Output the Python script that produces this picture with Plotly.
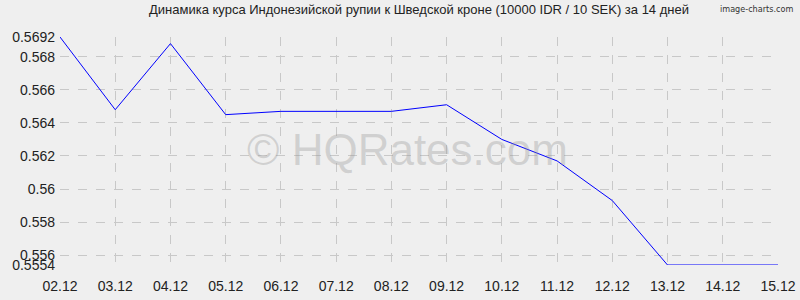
import plotly.graph_objects as go

dates = ["02.12", "03.12", "04.12", "05.12", "06.12", "07.12", "08.12",
         "09.12", "10.12", "11.12", "12.12", "13.12", "14.12", "15.12"]
rates = [0.5692, 0.5648, 0.5688, 0.5645, 0.5647, 0.5647, 0.5647,
         0.5651, 0.5630, 0.5617, 0.5593, 0.5554, 0.5554, 0.5554]
y_ticks = [0.5554, 0.556, 0.558, 0.56, 0.562, 0.564, 0.566, 0.568, 0.5692]
y_labels = ["0.5554", "0.556", "0.558", "0.56", "0.562", "0.564", "0.566", "0.568", "0.5692"]
title = "Динамика курса Индонезийской рупии к Шведской кроне (10000 IDR / 10 SEK) за 14 дней"

x = list(range(len(dates)))

fig = go.Figure()
fig.add_trace(go.Scatter(x=x, y=rates, mode="lines",
                         line=dict(color="#0000ff", width=1), hoverinfo="skip"))

grid = dict(showgrid=True, gridcolor="#c8c8c8", griddash="dash", gridwidth=1,
            zeroline=False, showline=False, ticks="", automargin=False,
            tickfont=dict(family="Liberation Sans, Arial", size=14, color="#222"))

fig.update_layout(
    width=800, height=300,
    margin=dict(l=60, r=22, t=37, b=35),
    paper_bgcolor="#efefef", plot_bgcolor="#efefef",
    showlegend=False,
    xaxis=dict(range=[0, len(dates) - 1], tickvals=x, ticktext=dates,
               ticklabelstandoff=11, **grid),
    yaxis=dict(range=[min(y_ticks), max(y_ticks)], tickvals=y_ticks, ticktext=y_labels,
               ticklabelstandoff=4, **grid),
    annotations=[
        dict(text=title, xref="paper", yref="paper", x=0.5, y=1, yshift=28,
             xanchor="center", yanchor="middle", showarrow=False,
             font=dict(family="Liberation Sans, Arial", size=13, color="#222")),
        dict(text="image-charts.com", xref="paper", yref="paper", x=1, xshift=17, y=1, yshift=28,
             xanchor="right", yanchor="middle", showarrow=False,
             font=dict(family="DejaVu Sans Condensed, DejaVu Sans", size=9, color="#333")),
        dict(text="© HQRates.com", xref="paper", yref="paper", x=0.475, xshift=6, y=0.5, yshift=2,
             xanchor="center", yanchor="middle", showarrow=False,
             font=dict(family="Liberation Sans, Arial", size=44, color="rgba(150,150,150,0.35)")),
    ],
)
fig.write_html("out.html")
